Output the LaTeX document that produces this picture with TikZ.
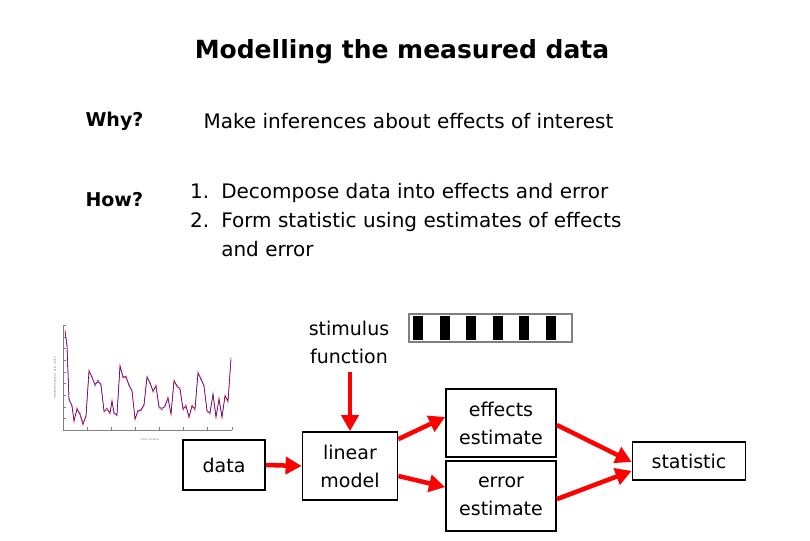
\documentclass[tikz,border=0pt]{standalone}
\usepackage{fontspec}
\setmainfont{DejaVu Sans}
\usetikzlibrary{arrows.meta}
\begin{document}
\begin{tikzpicture}[x=1pt,y=-1pt,
  box/.style={draw,line width=1.8pt,align=center,font=\fontsize{19}{28}\selectfont,inner sep=0pt},
  txt/.style={font=\fontsize{20}{29}\selectfont,align=left,anchor=west},
  lbl/.style={font=\fontsize{19}{24}\selectfont\bfseries,anchor=west},
  rarr/.style={draw=red,line width=4.5pt,-{Triangle[length=16pt,width=17pt]}}]
\useasboundingbox (0,0) rectangle (810,540);
\node[font=\fontsize{25}{30}\selectfont\bfseries] (title) at (402,52) {Modelling the measured data};
\node[lbl] (why) at (82,121) {Why?};
\node[txt] (whyt) at (200,121) {Make inferences about effects of interest};
\node[lbl] (how) at (82,200) {How?};
\node[txt,anchor=north west,inner sep=0pt] (howt) at (190,178) {\begin{tabular}{@{}l@{\hspace{12pt}}l@{}}1.& Decompose data into effects and error\\2.& Form statistic using estimates of effects\\ & and error\end{tabular}};
% plot
\draw[line width=0.4pt,gray] (63,325) -- (63,430) -- (232,430);
\foreach \i in {0,...,9} \draw[gray,line width=0.3pt] (63,{325+\i*11.7}) -- (66,{325+\i*11.7});
\foreach \i in {0,...,7} \draw[gray,line width=0.3pt] ({63+\i*24.1},430) -- ({63+\i*24.1},427);
\node[rotate=90,font=\fontsize{3}{3}\selectfont,gray] (yl) at (55,378) {measured signal, arb. units};
\node[font=\fontsize{3}{3}\selectfont,gray] (xl) at (150,440) {time (scans)};
\draw[red,line width=0.6pt] (65,330) -- (67,345) -- (69,400) -- (72,405) -- (74,422) -- (77,408) -- (80,415) -- (83,425) -- (86,415) -- (89,370) -- (92,378) -- (95,384) -- (98,382) -- (101,384) -- (104,412) -- (107,408) -- (110,414) -- (112,400) -- (114,414) -- (117,414) -- (120,365) -- (123,378) -- (126,376) -- (129,386) -- (132,390) -- (135,420) -- (138,410) -- (141,411) -- (144,404) -- (147,378) -- (150,382) -- (153,392) -- (156,385) -- (159,408) -- (162,408) -- (165,407) -- (168,397) -- (171,415) -- (174,380) -- (177,387) -- (180,388) -- (183,410) -- (186,405) -- (189,418) -- (192,405) -- (195,410) -- (198,372) -- (201,380) -- (204,385) -- (207,412) -- (210,412) -- (213,395) -- (216,418) -- (219,398) -- (222,418) -- (225,395) -- (228,402) -- (231,358);
\draw[blue!80!black,line width=0.5pt,opacity=0.8] (65,332) -- (67,347) -- (69,398) -- (72,407) -- (74,420) -- (77,410) -- (80,413) -- (83,423) -- (86,417) -- (89,372) -- (92,376) -- (95,386) -- (98,380) -- (101,386) -- (104,410) -- (107,410) -- (110,412) -- (112,402) -- (114,412) -- (117,416) -- (120,367) -- (123,376) -- (126,378) -- (129,384) -- (132,392) -- (135,418) -- (138,412) -- (141,409) -- (144,406) -- (147,376) -- (150,384) -- (153,390) -- (156,387) -- (159,406) -- (162,410) -- (165,405) -- (168,399) -- (171,413) -- (174,382) -- (177,385) -- (180,390) -- (183,408) -- (186,407) -- (189,416) -- (192,407) -- (195,408) -- (198,374) -- (201,378) -- (204,387) -- (207,410) -- (210,414) -- (213,393) -- (216,416) -- (219,400) -- (222,416) -- (225,397) -- (228,400) -- (231,360);
% stimulus bar
\fill[white] (409,314) rectangle (572,342);
\foreach \i in {0,...,5} \fill[black] ({413+\i*26.5},316) rectangle ({423+\i*26.5},340);
\draw[gray,line width=2pt] (409,314) rectangle (572,342);
\node[font=\fontsize{19}{28}\selectfont,align=center] (stim) at (349,342) {stimulus\\function};
% boxes
\node[box,minimum width=82pt,minimum height=50pt] (data) at (224,465) {data};
\node[box,minimum width=95pt,minimum height=68pt] (lin) at (350,466) {linear\\model};
\node[box,minimum width=110pt,minimum height=68pt] (eff) at (501,423) {effects\\estimate};
\node[box,minimum width=110pt,minimum height=70pt] (err) at (501,496) {error\\estimate};
\node[box,minimum width=113pt,minimum height=38pt] (stat) at (689,461) {statistic};
% arrows
\coordinate (s0) at (lin.north |- 0,372);
\draw[rarr] (s0) -- (lin.north);
\draw[rarr] (data.east) -- (lin.west);
\draw[rarr] ([yshift=-8pt]lin.north east) -- ([yshift=6pt]eff.west);
\draw[rarr] ([yshift=-10pt]lin.east) -- ([yshift=-27pt]err.north west);
\draw[rarr] ([yshift=-2pt]eff.east) -- ([yshift=-1pt]stat.west);
\draw[rarr] ([yshift=-39pt]err.north east) -- ([yshift=10pt]stat.south west);
\end{tikzpicture}
\end{document}
